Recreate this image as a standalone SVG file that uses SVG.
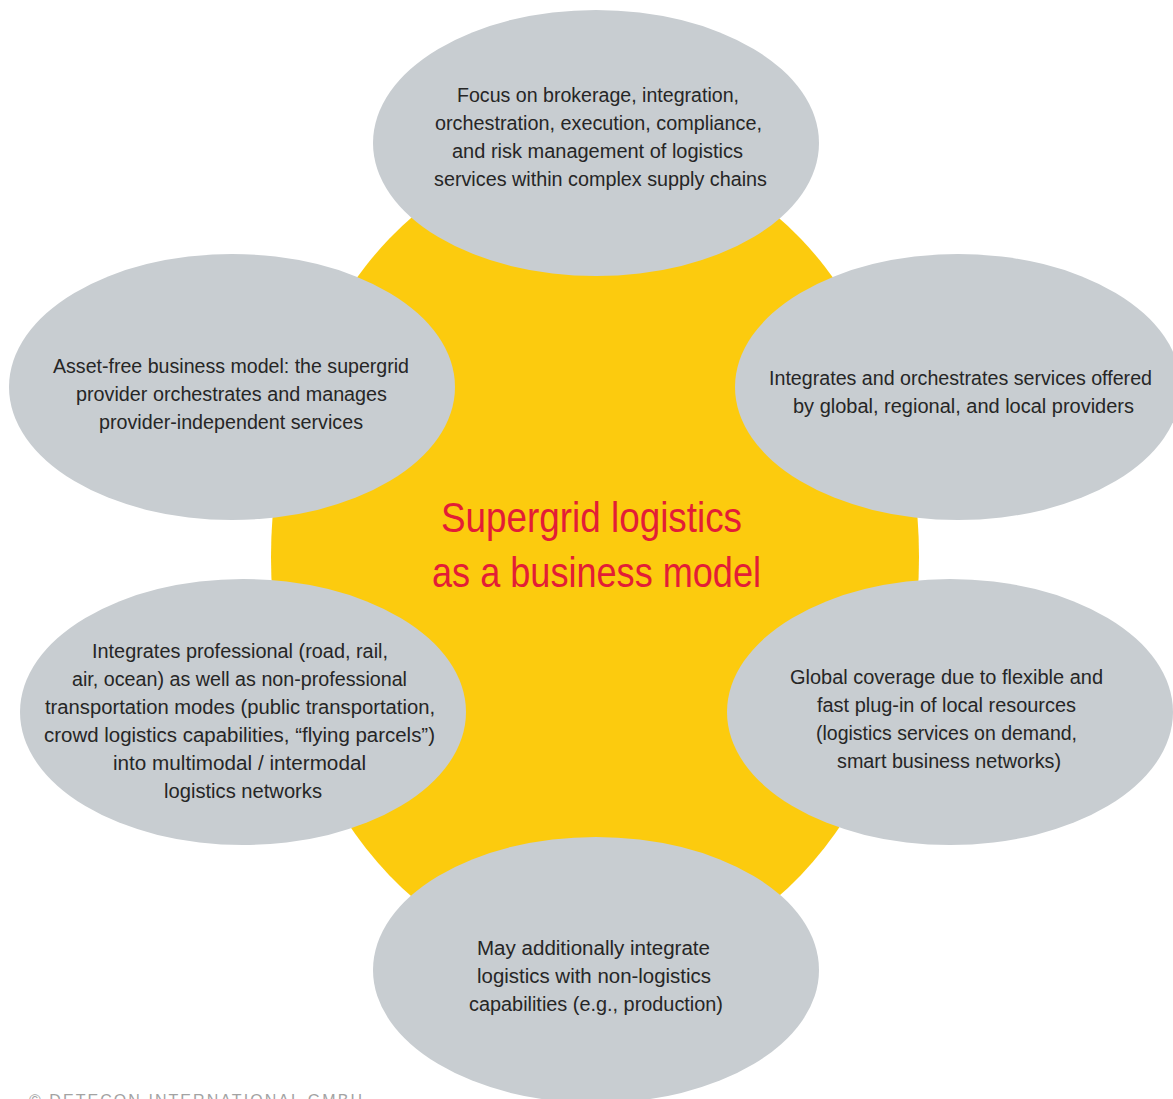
<svg xmlns="http://www.w3.org/2000/svg" width="1173" height="1099" viewBox="0 0 1173 1099">
<style>
.bg{fill:#ffffff}
.hub{fill:#fccb0e}
.node{fill:#c8cdd1}
.t{font-family:"Liberation Sans",Arial,sans-serif;font-size:20px;fill:#262626;text-anchor:middle}
.title{font-family:"Liberation Sans",Arial,sans-serif;font-size:42px;fill:#e31d36;text-anchor:middle}
.foot{font-family:"Liberation Sans",Arial,sans-serif;font-size:16px;fill:#a3a3a3}
</style>
<rect class="bg" x="0" y="0" width="1173" height="1099"/>
<g id="hub">
<ellipse class="hub" cx="595" cy="557" rx="324" ry="412"/>
</g>
<g id="connectors"></g>
<g id="node-top">
<ellipse class="node" cx="596" cy="143" rx="223" ry="133"/>
<text class="t" x="598" y="102" textLength="282" lengthAdjust="spacingAndGlyphs">Focus on brokerage, integration,</text>
<text class="t" x="598.5" y="130" textLength="327" lengthAdjust="spacingAndGlyphs">orchestration, execution, compliance,</text>
<text class="t" x="597.5" y="158" textLength="291" lengthAdjust="spacingAndGlyphs">and risk management of logistics</text>
<text class="t" x="600.5" y="186" textLength="333" lengthAdjust="spacingAndGlyphs">services within complex supply chains</text>
</g>
<g id="node-left-upper">
<ellipse class="node" cx="232" cy="387" rx="223" ry="133"/>
<text class="t" x="231" y="373" textLength="356" lengthAdjust="spacingAndGlyphs">Asset-free business model: the supergrid</text>
<text class="t" x="231.5" y="401" textLength="311" lengthAdjust="spacingAndGlyphs">provider orchestrates and manages</text>
<text class="t" x="231" y="429" textLength="264" lengthAdjust="spacingAndGlyphs">provider-independent services</text>
</g>
<g id="node-right-upper">
<ellipse class="node" cx="958" cy="387" rx="223" ry="133"/>
<text class="t" x="960.5" y="385" textLength="383" lengthAdjust="spacingAndGlyphs">Integrates and orchestrates services offered</text>
<text class="t" x="963.5" y="413" textLength="341" lengthAdjust="spacingAndGlyphs">by global, regional, and local providers</text>
</g>
<g id="node-left-lower">
<ellipse class="node" cx="243" cy="712" rx="223" ry="133"/>
<text class="t" x="240" y="658" textLength="296" lengthAdjust="spacingAndGlyphs">Integrates professional (road, rail,</text>
<text class="t" x="239.5" y="686" textLength="335" lengthAdjust="spacingAndGlyphs">air, ocean) as well as non-professional</text>
<text class="t" x="240" y="714" textLength="390" lengthAdjust="spacingAndGlyphs">transportation modes (public transportation,</text>
<text class="t" x="239.5" y="742" textLength="391" lengthAdjust="spacingAndGlyphs">crowd logistics capabilities, “flying parcels”)</text>
<text class="t" x="239.5" y="770" textLength="253" lengthAdjust="spacingAndGlyphs">into multimodal / intermodal</text>
<text class="t" x="243" y="798" textLength="158" lengthAdjust="spacingAndGlyphs">logistics networks</text>
</g>
<g id="node-right-lower">
<ellipse class="node" cx="950" cy="712" rx="223" ry="133"/>
<text class="t" x="946.5" y="684" textLength="313" lengthAdjust="spacingAndGlyphs">Global coverage due to flexible and</text>
<text class="t" x="946.5" y="712" textLength="259" lengthAdjust="spacingAndGlyphs">fast plug-in of local resources</text>
<text class="t" x="946.5" y="740" textLength="261" lengthAdjust="spacingAndGlyphs">(logistics services on demand,</text>
<text class="t" x="949" y="768" textLength="224" lengthAdjust="spacingAndGlyphs">smart business networks)</text>
</g>
<g id="node-bottom">
<ellipse class="node" cx="596" cy="970" rx="223" ry="133"/>
<text class="t" x="593.5" y="955" textLength="233" lengthAdjust="spacingAndGlyphs">May additionally integrate</text>
<text class="t" x="594" y="983" textLength="234" lengthAdjust="spacingAndGlyphs">logistics with non-logistics</text>
<text class="t" x="596" y="1011" textLength="254" lengthAdjust="spacingAndGlyphs">capabilities (e.g., production)</text>
</g>
<g id="title">
<text class="title" x="591.5" y="532" textLength="301" lengthAdjust="spacingAndGlyphs">Supergrid logistics</text>
<text class="title" x="596.5" y="587" textLength="329" lengthAdjust="spacingAndGlyphs">as a business model</text>
</g>
<text class="foot" x="29" y="1106" textLength="333" lengthAdjust="spacing">© DETECON INTERNATIONAL GMBH</text>
</svg>
